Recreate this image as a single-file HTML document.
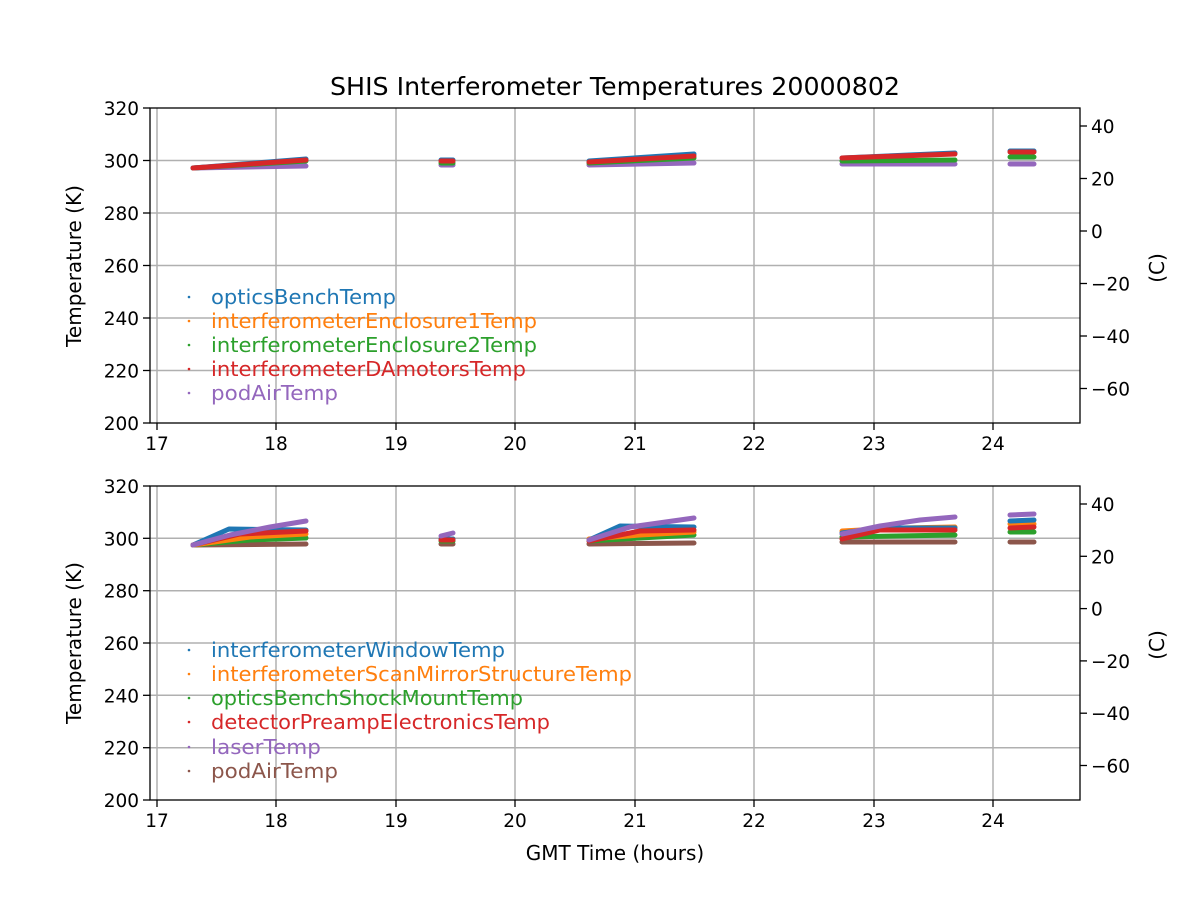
<!DOCTYPE html><html><head><style>body{margin:0;background:#fff}svg{display:block;font-family:"DejaVu Sans","Liberation Sans",sans-serif}</style></head><body>
<svg width="1200" height="900" viewBox="0 0 1200 900" xmlns="http://www.w3.org/2000/svg">
<rect width="1200" height="900" fill="#fff"/>
<text x="615" y="95" font-size="25" text-anchor="middle" textLength="570" lengthAdjust="spacingAndGlyphs">SHIS Interferometer Temperatures 20000802</text>
<g stroke="#b0b0b0" stroke-width="1.5">
<line x1="157" y1="108" x2="157" y2="423"/><line x1="276" y1="108" x2="276" y2="423"/><line x1="396" y1="108" x2="396" y2="423"/><line x1="515" y1="108" x2="515" y2="423"/><line x1="635" y1="108" x2="635" y2="423"/><line x1="754" y1="108" x2="754" y2="423"/><line x1="874" y1="108" x2="874" y2="423"/><line x1="993" y1="108" x2="993" y2="423"/>
<line x1="150" y1="160.5" x2="1080" y2="160.5"/><line x1="150" y1="213" x2="1080" y2="213"/><line x1="150" y1="265.5" x2="1080" y2="265.5"/><line x1="150" y1="318" x2="1080" y2="318"/><line x1="150" y1="370.5" x2="1080" y2="370.5"/>
<line x1="157" y1="486" x2="157" y2="800"/><line x1="276" y1="486" x2="276" y2="800"/><line x1="396" y1="486" x2="396" y2="800"/><line x1="515" y1="486" x2="515" y2="800"/><line x1="635" y1="486" x2="635" y2="800"/><line x1="754" y1="486" x2="754" y2="800"/><line x1="874" y1="486" x2="874" y2="800"/><line x1="993" y1="486" x2="993" y2="800"/>
<line x1="150" y1="538.3" x2="1080" y2="538.3"/><line x1="150" y1="590.7" x2="1080" y2="590.7"/><line x1="150" y1="643" x2="1080" y2="643"/><line x1="150" y1="695.3" x2="1080" y2="695.3"/><line x1="150" y1="747.7" x2="1080" y2="747.7"/>
</g>
<g fill="none" stroke-width="5" stroke-linecap="round" stroke-linejoin="round">
<g stroke="#9467bd"><polyline points="193,168 306,166"/><polyline points="441,165 453,165"/><polyline points="589,165 694,163"/><polyline points="842,164 955,164"/><polyline points="1010,164 1034,164"/></g>
<g stroke="#2ca02c"><polyline points="193,168 306,161"/><polyline points="441,163 453,163"/><polyline points="589,163 694,158"/><polyline points="842,161 955,160"/><polyline points="1010,157 1034,157"/></g>
<g stroke="#1f77b4"><polyline points="193,168 306,159"/><polyline points="441,160 453,160"/><polyline points="589,161 694,154"/><polyline points="842,158 955,153"/><polyline points="1010,151 1034,151"/></g>
<g stroke="#d62728"><polyline points="193,168 306,160"/><polyline points="441,161 453,161"/><polyline points="589,162 694,156"/><polyline points="842,158 955,154"/><polyline points="1010,152 1034,152"/></g>
<g stroke="#8c564b"><polyline points="193,545 306,544"/><polyline points="441,544 453,544"/><polyline points="589,544 694,543"/><polyline points="842,542 955,542"/><polyline points="1010,542 1034,542"/></g>
<g stroke="#2ca02c"><polyline points="193,545 250,540 306,538"/><polyline points="441,541 453,541"/><polyline points="589,541 640,538 694,535"/><polyline points="842,537 955,535"/><polyline points="1010,532 1034,532"/></g>
<g stroke="#ff7f0e"><polyline points="193,545 250,537 306,534"/><polyline points="441,539 453,539"/><polyline points="589,539 640,535 694,532"/><polyline points="842,531 900,528 955,527"/><polyline points="1010,524 1034,524"/></g>
<g stroke="#1f77b4"><polyline points="193,545 229,529 306,530"/><polyline points="441,539 453,539"/><polyline points="589,540 620,526 694,527"/><polyline points="842,533 880,528 955,528"/><polyline points="1010,521 1034,520"/></g>
<g stroke="#d62728"><polyline points="193,545 240,534 306,531"/><polyline points="441,540 453,540"/><polyline points="589,541 640,531 694,530"/><polyline points="842,539 880,530 955,530"/><polyline points="1010,528 1034,527"/></g>
<g stroke="#9467bd"><polyline points="193,545 230,535 270,527 306,521"/><polyline points="441,536 453,533"/><polyline points="589,540 630,527 694,518"/><polyline points="842,534 880,526 920,520 955,517"/><polyline points="1010,515 1034,514"/></g>
</g>
<g fill="none" stroke="#000" stroke-width="1.3">
<rect x="150" y="108" width="930" height="315"/><rect x="150" y="486" width="930" height="314"/>
</g>
<g stroke="#000" stroke-width="1.3">
<line x1="157" y1="423" x2="157" y2="430"/><line x1="276" y1="423" x2="276" y2="430"/><line x1="396" y1="423" x2="396" y2="430"/><line x1="515" y1="423" x2="515" y2="430"/><line x1="635" y1="423" x2="635" y2="430"/><line x1="754" y1="423" x2="754" y2="430"/><line x1="874" y1="423" x2="874" y2="430"/><line x1="993" y1="423" x2="993" y2="430"/>
<line x1="157" y1="800" x2="157" y2="807"/><line x1="276" y1="800" x2="276" y2="807"/><line x1="396" y1="800" x2="396" y2="807"/><line x1="515" y1="800" x2="515" y2="807"/><line x1="635" y1="800" x2="635" y2="807"/><line x1="754" y1="800" x2="754" y2="807"/><line x1="874" y1="800" x2="874" y2="807"/><line x1="993" y1="800" x2="993" y2="807"/>
<line x1="143" y1="108" x2="150" y2="108"/><line x1="143" y1="160.5" x2="150" y2="160.5"/><line x1="143" y1="213" x2="150" y2="213"/><line x1="143" y1="265.5" x2="150" y2="265.5"/><line x1="143" y1="318" x2="150" y2="318"/><line x1="143" y1="370.5" x2="150" y2="370.5"/><line x1="143" y1="423" x2="150" y2="423"/>
<line x1="143" y1="486" x2="150" y2="486"/><line x1="143" y1="538.3" x2="150" y2="538.3"/><line x1="143" y1="590.7" x2="150" y2="590.7"/><line x1="143" y1="643" x2="150" y2="643"/><line x1="143" y1="695.3" x2="150" y2="695.3"/><line x1="143" y1="747.7" x2="150" y2="747.7"/><line x1="143" y1="800" x2="150" y2="800"/>
<line x1="1080" y1="126" x2="1087" y2="126"/><line x1="1080" y1="178.5" x2="1087" y2="178.5"/><line x1="1080" y1="231" x2="1087" y2="231"/><line x1="1080" y1="283.5" x2="1087" y2="283.5"/><line x1="1080" y1="336" x2="1087" y2="336"/><line x1="1080" y1="388.5" x2="1087" y2="388.5"/>
<line x1="1080" y1="504" x2="1087" y2="504"/><line x1="1080" y1="556.3" x2="1087" y2="556.3"/><line x1="1080" y1="608.6" x2="1087" y2="608.6"/><line x1="1080" y1="660.9" x2="1087" y2="660.9"/><line x1="1080" y1="713.2" x2="1087" y2="713.2"/><line x1="1080" y1="765.5" x2="1087" y2="765.5"/>
</g>
<g font-size="18.5" text-anchor="middle">
<text x="157" y="450">17</text><text x="276" y="450">18</text><text x="396" y="450">19</text><text x="515" y="450">20</text><text x="635" y="450">21</text><text x="754" y="450">22</text><text x="874" y="450">23</text><text x="993" y="450">24</text>
<text x="157" y="827">17</text><text x="276" y="827">18</text><text x="396" y="827">19</text><text x="515" y="827">20</text><text x="635" y="827">21</text><text x="754" y="827">22</text><text x="874" y="827">23</text><text x="993" y="827">24</text>
</g>
<g font-size="18.5" text-anchor="end">
<text x="139" y="115">320</text><text x="139" y="167.5">300</text><text x="139" y="220">280</text><text x="139" y="272.5">260</text><text x="139" y="325">240</text><text x="139" y="377.5">220</text><text x="139" y="430">200</text>
<text x="139" y="493">320</text><text x="139" y="545.3">300</text><text x="139" y="597.7">280</text><text x="139" y="650">260</text><text x="139" y="702.3">240</text><text x="139" y="754.7">220</text><text x="139" y="807">200</text>
</g>
<g font-size="18.5">
<text x="1091" y="133">40</text><text x="1091" y="185.5">20</text><text x="1091" y="238">0</text><text x="1091" y="290.5">−20</text><text x="1091" y="343">−40</text><text x="1091" y="395.5">−60</text>
<text x="1091" y="511">40</text><text x="1091" y="563.3">20</text><text x="1091" y="615.6">0</text><text x="1091" y="667.9">−20</text><text x="1091" y="720.2">−40</text><text x="1091" y="772.5">−60</text>
</g>
<g font-size="20" text-anchor="middle">
<text transform="translate(81,266) rotate(-90)">Temperature (K)</text>
<text transform="translate(81,643) rotate(-90)">Temperature (K)</text>
<text transform="translate(1164,268) rotate(-90)">(C)</text>
<text transform="translate(1164,645) rotate(-90)">(C)</text>
<text x="615" y="860">GMT Time (hours)</text>
</g>
<g font-size="20.5" lengthAdjust="spacingAndGlyphs">
<circle cx="189" cy="297" r="1.3" fill="#1f77b4"/><text x="211" y="304" fill="#1f77b4" textLength="185" lengthAdjust="spacingAndGlyphs">opticsBenchTemp</text>
<circle cx="189" cy="321" r="1.3" fill="#ff7f0e"/><text x="211" y="328" fill="#ff7f0e" textLength="326" lengthAdjust="spacingAndGlyphs">interferometerEnclosure1Temp</text>
<circle cx="189" cy="345" r="1.3" fill="#2ca02c"/><text x="211" y="352" fill="#2ca02c" textLength="326" lengthAdjust="spacingAndGlyphs">interferometerEnclosure2Temp</text>
<circle cx="189" cy="369" r="1.3" fill="#d62728"/><text x="211" y="376" fill="#d62728" textLength="315" lengthAdjust="spacingAndGlyphs">interferometerDAmotorsTemp</text>
<circle cx="189" cy="393" r="1.3" fill="#9467bd"/><text x="211" y="400" fill="#9467bd" textLength="127" lengthAdjust="spacingAndGlyphs">podAirTemp</text>
<circle cx="189" cy="650" r="1.3" fill="#1f77b4"/><text x="211" y="657" fill="#1f77b4" textLength="294" lengthAdjust="spacingAndGlyphs">interferometerWindowTemp</text>
<circle cx="189" cy="674" r="1.3" fill="#ff7f0e"/><text x="211" y="681" fill="#ff7f0e" textLength="421" lengthAdjust="spacingAndGlyphs">interferometerScanMirrorStructureTemp</text>
<circle cx="189" cy="698" r="1.3" fill="#2ca02c"/><text x="211" y="705" fill="#2ca02c" textLength="312" lengthAdjust="spacingAndGlyphs">opticsBenchShockMountTemp</text>
<circle cx="189" cy="722" r="1.3" fill="#d62728"/><text x="211" y="729" fill="#d62728" textLength="339" lengthAdjust="spacingAndGlyphs">detectorPreampElectronicsTemp</text>
<circle cx="189" cy="747" r="1.3" fill="#9467bd"/><text x="211" y="754" fill="#9467bd" textLength="110" lengthAdjust="spacingAndGlyphs">laserTemp</text>
<circle cx="189" cy="771" r="1.3" fill="#8c564b"/><text x="211" y="778" fill="#8c564b" textLength="127" lengthAdjust="spacingAndGlyphs">podAirTemp</text>
</g>
</svg>
</body></html>
